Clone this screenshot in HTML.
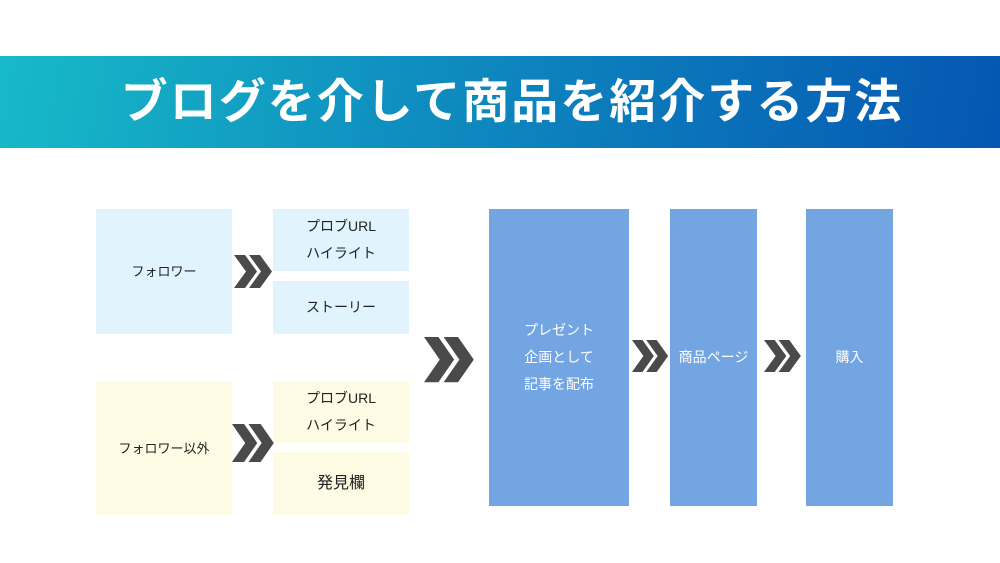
<!DOCTYPE html>
<html><head><meta charset="utf-8"><style>
body{margin:0;width:1000px;height:563px;background:#fff;position:relative;overflow:hidden;font-family:"Liberation Sans","Noto Sans CJK JP",sans-serif;}
.banner{position:absolute;left:0;top:56px;width:1000px;height:92px;background:linear-gradient(100deg,#17bac8 0%,#0f8fc0 40%,#0556b2 100%);}
.title{position:absolute;left:12px;top:56px;width:1000px;height:92px;line-height:92px;text-align:center;color:#fff;font-size:47px;font-weight:bold;letter-spacing:2px;}
.b{position:absolute;display:flex;align-items:center;justify-content:center;text-align:center;font-size:14px;line-height:27px;color:#222;}
.lb{background:#e1f4fd}.ly{background:#fdfbe3}.bl{background:#73a5e2;color:#fff;}
svg{position:absolute;left:0;top:0}
</style></head><body>
<div class="banner"></div>
<div class="title">ブログを介して商品を紹介する方法</div>
<div class="b lb" style="left:96px;top:209px;width:136px;height:125px;font-size:13px">フォロワー</div>
<div class="b lb" style="left:273px;top:209px;width:136px;height:62px">プロブURL<br>ハイライト</div>
<div class="b lb" style="left:273px;top:281px;width:136px;height:53px">ストーリー</div>
<div class="b ly" style="left:96px;top:381px;width:136px;height:134px;font-size:13px">フォロワー以外</div>
<div class="b ly" style="left:273px;top:381px;width:136px;height:62px">プロブURL<br>ハイライト</div>
<div class="b ly" style="left:273px;top:452px;width:136px;height:63px;font-size:16px">発見欄</div>
<div class="b bl" style="left:489px;top:209px;width:140px;height:297px">プレゼント<br>企画として<br>記事を配布</div>
<div class="b bl" style="left:670px;top:209px;width:87px;height:297px">商品ページ</div>
<div class="b bl" style="left:806px;top:209px;width:87px;height:297px">購入</div>
<svg width="1000" height="563">
<g fill="#4a4a4a">
<g transform="translate(234,255) scale(1,1)"><polygon points="0,0 11,0 23,16.5 11,33 0,33 12,16.5"/><polygon points="15,0 26,0 38,16.5 26,33 15,33 27,16.5"/></g>
<g transform="translate(232,424) scale(1.1,1.15)"><polygon points="0,0 11,0 23,16.5 11,33 0,33 12,16.5"/><polygon points="15,0 26,0 38,16.5 26,33 15,33 27,16.5"/></g>
<g transform="translate(424,337) scale(1.31,1.37)"><polygon points="0,0 11,0 23,16.5 11,33 0,33 12,16.5"/><polygon points="15,0 26,0 38,16.5 26,33 15,33 27,16.5"/></g>
<g transform="translate(632,340) scale(0.95,0.97)"><polygon points="0,0 11,0 23,16.5 11,33 0,33 12,16.5"/><polygon points="15,0 26,0 38,16.5 26,33 15,33 27,16.5"/></g>
<g transform="translate(764,340) scale(0.97,0.97)"><polygon points="0,0 11,0 23,16.5 11,33 0,33 12,16.5"/><polygon points="15,0 26,0 38,16.5 26,33 15,33 27,16.5"/></g>
</g></svg>
</body></html>
